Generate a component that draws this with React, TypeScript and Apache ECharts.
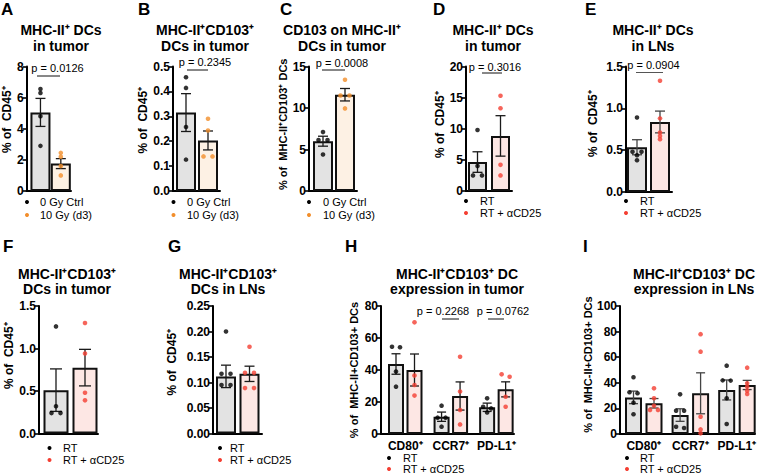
import React, { useEffect, useRef } from "react";
import * as echarts from "echarts";

const FONT = '"Liberation Sans", Arial, Helvetica, sans-serif';

// ---------- data ----------
const irrGroups = ["0 Gy Ctrl", "10 Gy (d3)"];
const abGroups = ["RT", "RT + \u03b1CD25"];
const exprCats = ["CD80\u207a", "CCR7\u207a", "PD-L1\u207a"];

// A
const aMeans = [5.05, 1.76];
const aSems = [0.9, 0.32];
const aCtrl = [6.55, 6.3, 4.8, 2.9];
const aIrr = [2.45, 2.2, 1.6, 1.0];
// B
const bMeans = [0.315, 0.203];
const bSems = [0.076, 0.038];
const bCtrl = [0.457, 0.414, 0.257, 0.126];
const bIrr = [0.29, 0.243, 0.139, 0.139];
// C
const cMeans = [6.0, 11.6];
const cSems = [0.6, 0.75];
const cCtrl = [7.1, 6.15, 6.15, 4.4];
const cIrr = [13.4, 11.5, 11.5, 9.95];
// D
const dMeans = [4.65, 8.85];
const dSems = [1.65, 3.25];
const dRT = [9.8, 4.0, 2.5, 2.5];
const dAb = [15.3, 13.3, 4.2, 2.5];
// E
const eMeans = [0.535, 0.837];
const eSems = [0.09, 0.13];
const eRT = [0.89, 0.48, 0.48, 0.44, 0.38];
const eAb = [1.33, 0.88, 0.71, 0.67, 0.63];
// F
const fMeans = [0.51, 0.775];
const fSems = [0.25, 0.215];
const fRT = [1.26, 0.32, 0.24, 0.24];
const fAb = [1.3, 0.94, 0.48, 0.39];
// G
const gMeans = [0.112, 0.117];
const gSems = [0.022, 0.015];
const gRT = [0.2, 0.117, 0.117, 0.095, 0.095];
const gAb = [0.17, 0.119, 0.119, 0.089, 0.089];
// H
const hMeansRT = [43.75, 10.8, 16.7];
const hMeansAb = [40, 23.75, 27.9];
const hSemsRT = [6.4, 2.9, 2.6];
const hSemsAb = [10, 8.8, 4.7];
const hPtsRT = [[54.5, 54.2, 39, 29.6], [17.7, 10.2, 10.2, 4.6], [22.3, 17, 16, 13.5]];
const hPtsAb = [[69.8, 36.5, 30.6, 24], [48.3, 26.5, 15, 6], [37.3, 35.8, 23.3, 17]];
// I
const iMeansRT = [28.6, 14.8, 34.4];
const iMeansAb = [24, 31.8, 38.3];
const iSemsRT = [4.9, 4.9, 7.8];
const iSemsAb = [3.7, 16, 3.6];
const iPtsRT = [[44.3, 32.6, 31.8, 24.5, 15.4], [31, 18.2, 18.2, 5.7, 4.7], [53.4, 41.9, 41.7, 27.9, 7.8]];
const iPtsAb = [[35.7, 27.9, 22, 18.8, 18.8], [78, 64.3, 13.5, 3.6, 0.5], [51.8, 39.6, 37, 33.8, 31.3]];

// ---------- styles ----------
const GREY_FILL = "#e3e3e3";
const ORANGE_FILL = "#fdf1e4";
const RED_FILL = "#fde7e4";
const ORANGE_DOT = "#f28e2b";
const RED_DOT = "#f43e32";

type PVal = { text: string; cx: number; cy: number; x1: number; x2: number; ly: number };
type Panel = {
  letter: string; lx: number; ly: number;
  title: string; tx: number; ty: number;
  box: { l: number; t: number; r: number; b: number };
  c0: number; c1: number;
  base: number; off: number; barW: number; cap: number;
  yMax: number; yStep: number; yDec: number; yName: string; nameGap: number; nameSize: number; nameUp: number;
  cats: string[]; means: number[][]; sems: number[][]; points: number[][][];
  groups: string[]; fills: string[]; dots: string[];
  legend: { dx: number; tx: number; y0: number; y1: number };
  pvals: PVal[]; errColor: string; pColor: string;
};

const TOP = { t: 66.5, b: 191 };
const BOT = { t: 306, b: 433.5 };

const panels: Panel[] = [
  {
    letter: "A", lx: 1, ly: 9, title: "MHC-II\u207a DCs\nin tumor", tx: 61, ty: 38,
    box: { l: 23, t: TOP.t, r: 71, b: TOP.b }, c0: 38, c1: 60, base: 0.5, off: 0.5, barW: 20, cap: 5,
    yMax: 8, yStep: 2, yDec: 0, yName: "% of  CD45\u207a", nameGap: 12, nameSize: 12, nameUp: 9,
    cats: [""], means: [[aMeans[0]], [aMeans[1]]], sems: [[aSems[0]], [aSems[1]]], points: [[aCtrl], [aIrr]],
    groups: irrGroups, fills: [GREY_FILL, ORANGE_FILL], dots: ["#000", ORANGE_DOT],
    legend: { dx: 27, tx: 40, y0: 202, y1: 215 },
    pvals: [{ text: "p = 0.0126", cx: 57.5, cy: 68, x1: 37, x2: 60, ly: 76 }], errColor: "#1a1a1a", pColor: "#111",
  },
  {
    letter: "B", lx: 138, ly: 9, title: "MHC-II\u207aCD103\u207a\nDCs in tumor", tx: 205, ty: 38,
    box: { l: 173, t: TOP.t, r: 220, b: TOP.b }, c0: 186, c1: 208, base: 0.5, off: 0.5, barW: 20, cap: 5,
    yMax: 0.5, yStep: 0.1, yDec: 1, yName: "% of  CD45\u207a", nameGap: 23, nameSize: 12, nameUp: 8.5,
    cats: [""], means: [[bMeans[0]], [bMeans[1]]], sems: [[bSems[0]], [bSems[1]]], points: [[bCtrl], [bIrr]],
    groups: irrGroups, fills: [GREY_FILL, ORANGE_FILL], dots: ["#000", ORANGE_DOT],
    legend: { dx: 173.5, tx: 187, y0: 202, y1: 215 },
    pvals: [{ text: "p = 0.2345", cx: 205, cy: 62, x1: 187, x2: 208, ly: 70 }], errColor: "#1a1a1a", pColor: "#111",
  },
  {
    letter: "C", lx: 280, ly: 9, title: "CD103 on MHC-II\u207a\nDCs in tumor", tx: 342, ty: 38,
    box: { l: 309, t: TOP.t, r: 357, b: TOP.b }, c0: 323, c1: 345, base: 0.5, off: 0.5, barW: 20, cap: 5,
    yMax: 15, yStep: 5, yDec: 0, yName: "% of  MHC-II\u207aCD103\u207a DCs", nameGap: 18, nameSize: 11, nameUp: 4.5,
    cats: [""], means: [[cMeans[0]], [cMeans[1]]], sems: [[cSems[0]], [cSems[1]]], points: [[cCtrl], [cIrr]],
    groups: irrGroups, fills: [GREY_FILL, ORANGE_FILL], dots: ["#000", ORANGE_DOT],
    legend: { dx: 309, tx: 323, y0: 202, y1: 215 },
    pvals: [{ text: "p = 0.0008", cx: 342, cy: 63, x1: 322, x2: 345, ly: 70 }], errColor: "#1a1a1a", pColor: "#111",
  },
  {
    letter: "D", lx: 433, ly: 9, title: "MHC-II\u207a DCs\nin tumor", tx: 493, ty: 38,
    box: { l: 466, t: TOP.t, r: 512, b: TOP.b }, c0: 477.5, c1: 500.5, base: 0.5, off: 0.5, barW: 19, cap: 5,
    yMax: 20, yStep: 5, yDec: 0, yName: "% of  CD45\u207a", nameGap: 20, nameSize: 12, nameUp: 4,
    cats: [""], means: [[dMeans[0]], [dMeans[1]]], sems: [[dSems[0]], [dSems[1]]], points: [[dRT], [dAb]],
    groups: abGroups, fills: [GREY_FILL, RED_FILL], dots: ["#000", RED_DOT],
    legend: { dx: 466, tx: 480, y0: 201, y1: 213 },
    pvals: [{ text: "p = 0.3016", cx: 495, cy: 66.5, x1: 482, x2: 502, ly: 73 }], errColor: "#1a1a1a", pColor: "#111",
  },
  {
    letter: "E", lx: 585, ly: 9, title: "MHC-II\u207a DCs\nin LNs", tx: 653, ty: 38,
    box: { l: 626, t: TOP.t, r: 672, b: 192 }, c0: 637, c1: 660, base: 0.5, off: 0.5, barW: 20, cap: 5,
    yMax: 1.5, yStep: 0.5, yDec: 1, yName: "% of  CD45\u207a", nameGap: 27, nameSize: 12, nameUp: 5.5,
    cats: [""], means: [[eMeans[0]], [eMeans[1]]], sems: [[eSems[0]], [eSems[1]]], points: [[eRT], [eAb]],
    groups: abGroups, fills: [GREY_FILL, RED_FILL], dots: ["#000", RED_DOT],
    legend: { dx: 626, tx: 640, y0: 201, y1: 213 },
    pvals: [{ text: "p = 0.0904", cx: 653.5, cy: 65, x1: 636, x2: 663, ly: 72.5 }], errColor: "#444", pColor: "#555",
  },
  {
    letter: "F", lx: 3, ly: 246, title: "MHC-II\u207aCD103\u207a\nDCs in tumor", tx: 67, ty: 281.5,
    box: { l: 39, t: BOT.t, r: 98, b: BOT.b }, c0: 56, c1: 85, base: 0.5, off: 0.5, barW: 25, cap: 6,
    yMax: 1.5, yStep: 0.5, yDec: 1, yName: "% of  CD45\u207a", nameGap: 19, nameSize: 12, nameUp: 14,
    cats: [""], means: [[fMeans[0]], [fMeans[1]]], sems: [[fSems[0]], [fSems[1]]], points: [[fRT], [fAb]],
    groups: abGroups, fills: [GREY_FILL, RED_FILL], dots: ["#000", RED_DOT],
    legend: { dx: 49.5, tx: 63, y0: 448, y1: 460 },
    pvals: [], errColor: "#1a1a1a", pColor: "#111",
  },
  {
    letter: "G", lx: 168, ly: 246, title: "MHC-II\u207aCD103\u207a\nDCs in LNs", tx: 228, ty: 281.5,
    box: { l: 213, t: BOT.t, r: 262, b: BOT.b }, c0: 226, c1: 249.5, base: 0.5, off: 0.5, barW: 20, cap: 5,
    yMax: 0.25, yStep: 0.05, yDec: 2, yName: "% of  CD45\u207a", nameGap: 35, nameSize: 12, nameUp: 7.5,
    cats: [""], means: [[gMeans[0]], [gMeans[1]]], sems: [[gSems[0]], [gSems[1]]], points: [[gRT], [gAb]],
    groups: abGroups, fills: [GREY_FILL, RED_FILL], dots: ["#000", RED_DOT],
    legend: { dx: 220, tx: 230, y0: 448, y1: 460 },
    pvals: [], errColor: "#1a1a1a", pColor: "#111",
  },
  {
    letter: "H", lx: 345, ly: 246, title: "MHC-II\u207aCD103\u207a DC\nexpression in tumor", tx: 457, ty: 281.5,
    box: { l: 381, t: BOT.t, r: 514, b: 434 }, c0: 396, c1: 414.5, base: 0, off: 0.203, barW: 16, cap: 4.5,
    yMax: 80, yStep: 20, yDec: 0, yName: "% of  MHC-II+CD103+ DCs", nameGap: 22, nameSize: 11, nameUp: 0,
    cats: exprCats, means: [hMeansRT, hMeansAb], sems: [hSemsRT, hSemsAb], points: [hPtsRT, hPtsAb],
    groups: abGroups, fills: [GREY_FILL, RED_FILL], dots: ["#000", RED_DOT],
    legend: { dx: 389, tx: 403, y0: 458, y1: 469 },
    pvals: [
      { text: "p = 0.2268", cx: 443, cy: 311, x1: 442, x2: 459, ly: 319 },
      { text: "p = 0.0762", cx: 503, cy: 311, x1: 488, x2: 504, ly: 319 },
    ], errColor: "#1a1a1a", pColor: "#111",
  },
  {
    letter: "I", lx: 583, ly: 246, title: "MHC-II\u207aCD103\u207a DC\nexpression in LNs", tx: 694, ty: 281.5,
    box: { l: 620, t: BOT.t, r: 755, b: 434 }, c0: 633.5, c1: 654, base: 0, off: 0.22, barW: 17, cap: 4.5,
    yMax: 100, yStep: 20, yDec: 0, yName: "% of  MHC-II+CD103+ DCs", nameGap: 22, nameSize: 11, nameUp: 5.5,
    cats: exprCats, means: [iMeansRT, iMeansAb], sems: [iSemsRT, iSemsAb], points: [iPtsRT, iPtsAb],
    groups: abGroups, fills: [GREY_FILL, RED_FILL], dots: ["#000", RED_DOT],
    legend: { dx: 627, tx: 640, y0: 458, y1: 469 },
    pvals: [], errColor: "#444", pColor: "#111",
  },
];

function jitter(vals: number[], pxPerUnit: number, spacing: number, thr: number): number[] {
  const n = vals.length;
  const idx = vals.map((_, i) => i).sort((a, b) => vals[b] - vals[a]);
  const offs = new Array(n).fill(0);
  let i = 0;
  while (i < n) {
    let j = i + 1;
    while (j < n && Math.abs(vals[idx[j - 1]] - vals[idx[j]]) * pxPerUnit < thr) j++;
    const k = j - i;
    for (let m = 0; m < k; m++) offs[idx[i + m]] = (m - (k - 1) / 2) * spacing;
    i = j;
  }
  return offs;
}

function buildOption() {
  const grid: any[] = [];
  const xAxis: any[] = [];
  const yAxis: any[] = [];
  const series: any[] = [];
  const graphic: any[] = [];

  panels.forEach((p, pi) => {
    const { l, t, r, b } = p.box;
    grid.push({ left: l, top: t, width: r - l, height: b - t, containLabel: false });
    const pos0 = p.base - p.off;
    const pos1 = p.base + p.off;
    const unit = (p.c1 - p.c0) / (pos1 - pos0);
    const xMin = pos0 - (p.c0 - l) / unit;
    const xMax = xMin + (r - l) / unit;
    const hasCats = p.cats.length > 1;
    xAxis.push({
      gridIndex: pi, type: "value", min: xMin, max: xMax,
      splitLine: { show: false },
      axisLine: { show: true, onZero: false, lineStyle: { color: "#000", width: 2 } },
      axisTick: { show: false },
      axisLabel: hasCats
        ? {
            show: true, customValues: p.cats.map((_, ci) => ci), margin: 6,
            formatter: (v: number) => p.cats[Math.round(v)] ?? "",
            fontFamily: FONT, fontWeight: "bold", fontSize: 12, color: "#000",
          }
        : { show: false },
    });
    yAxis.push({
      gridIndex: pi, type: "value", min: 0, max: p.yMax, interval: p.yStep,
      splitLine: { show: false },
      axisLine: { show: true, onZero: false, lineStyle: { color: "#000", width: 2 } },
      axisTick: { show: true, length: 4, lineStyle: { color: "#000", width: 1.6 } },
      axisLabel: {
        fontFamily: FONT, fontWeight: "bold", fontSize: 12, color: "#000", margin: 3,
        formatter: (v: number) => v.toFixed(p.yDec),
      },
      name: p.yName, nameLocation: "middle", nameRotate: 90, nameGap: p.nameGap,
      nameTextStyle: {
        fontFamily: FONT, fontWeight: "bold", fontSize: p.nameSize, color: "#000",
        padding: [0, 0, 0, p.nameUp * 2],
      },
    });

    const pxPerUnitY = (b - t) / p.yMax;
    const barData: any[] = [];
    const errData: any[] = [];
    p.groups.forEach((_, gi) => {
      const scatterData: any[] = [];
      p.cats.forEach((_, ci) => {
        const x = ci + p.base + (gi === 0 ? -p.off : p.off);
        const m = p.means[gi][ci];
        const s = p.sems[gi][ci];
        barData.push({ value: [x, m], itemStyle: { color: p.fills[gi] } });
        errData.push([x, m - s, m + s]);
        const pts = p.points[gi][ci];
        const offs = jitter(pts, pxPerUnitY, hasCats ? 8 : 9, 3);
        pts.forEach((v, k) => scatterData.push({ value: [x, v], symbolOffset: [offs[k], 0] }));
      });
      series.push({
        type: "scatter", xAxisIndex: pi, yAxisIndex: pi, z: 5,
        symbol: "circle", symbolSize: 4.6, itemStyle: { color: p.dots[gi] },
        data: scatterData, silent: true,
      });
    });
    series.push({
      type: "bar", xAxisIndex: pi, yAxisIndex: pi, z: 2, barWidth: p.barW,
      itemStyle: { borderColor: "#111", borderWidth: 2 }, data: barData, silent: true,
    });
    series.push({
      type: "custom", xAxisIndex: pi, yAxisIndex: pi, z: 4, silent: true,
      encode: { x: 0, y: [1, 2] }, clip: false,
      renderItem: (_params: any, api: any) => {
        const x = api.value(0);
        const hi = api.coord([x, api.value(2)]);
        const lo = api.coord([x, api.value(1)]);
        const hw = p.cap;
        const style = { stroke: p.errColor, lineWidth: 1.3, fill: null };
        return {
          type: "group",
          children: [
            { type: "line", shape: { x1: hi[0], y1: hi[1], x2: lo[0], y2: lo[1] }, style },
            { type: "line", shape: { x1: hi[0] - hw, y1: hi[1], x2: hi[0] + hw, y2: hi[1] }, style },
            { type: "line", shape: { x1: lo[0] - hw, y1: lo[1], x2: lo[0] + hw, y2: lo[1] }, style },
          ],
        };
      },
      data: errData,
    });

    graphic.push({
      type: "text", x: p.lx, y: p.ly,
      style: { text: p.letter, font: `bold 17px ${FONT}`, fill: "#000", textAlign: "left", textVerticalAlign: "middle" },
    });
    graphic.push({
      type: "text", x: p.tx, y: p.ty,
      style: {
        text: p.title, font: `bold 14px ${FONT}`, lineHeight: 15.5, fill: "#000",
        textAlign: "center", textVerticalAlign: "middle",
      },
    });
    p.groups.forEach((g, gi) => {
      const y = gi === 0 ? p.legend.y0 : p.legend.y1;
      graphic.push({ type: "circle", shape: { cx: p.legend.dx, cy: y, r: 2 }, style: { fill: p.dots[gi] } });
      graphic.push({
        type: "text", x: p.legend.tx, y,
        style: { text: g, font: `11px ${FONT}`, fill: "#000", textAlign: "left", textVerticalAlign: "middle" },
      });
    });
    p.pvals.forEach((pv) => {
      graphic.push({
        type: "text", x: pv.cx, y: pv.cy,
        style: { text: pv.text, font: `11px ${FONT}`, fill: "#000", textAlign: "center", textVerticalAlign: "middle" },
      });
      graphic.push({
        type: "line", shape: { x1: pv.x1, y1: pv.ly, x2: pv.x2, y2: pv.ly },
        style: { stroke: p.pColor, lineWidth: 1 },
      });
    });
  });

  return { animation: false, backgroundColor: "#fff", grid, xAxis, yAxis, series, graphic };
}

export default function App() {
  const ref = useRef<HTMLDivElement>(null);
  useEffect(() => {
    if (!ref.current) return;
    const chart = echarts.init(ref.current, undefined, { renderer: "svg" });
    chart.setOption(buildOption() as any);
    return () => chart.dispose();
  }, []);
  return <div ref={ref} style={{ position: "fixed", left: 0, top: 0, width: 761, height: 475 }} />;
}
